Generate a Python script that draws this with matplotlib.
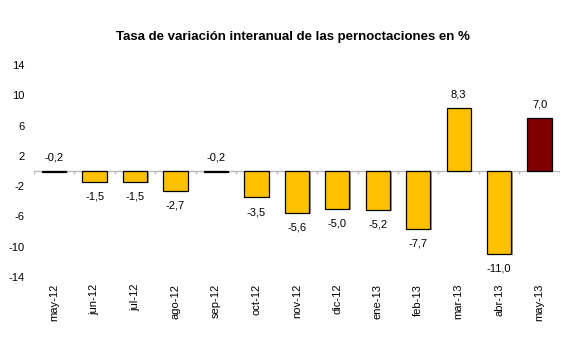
import matplotlib
matplotlib.use("Agg")
import matplotlib.pyplot as plt
import numpy as np

plt.rcParams['font.family'] = ['Liberation Sans', 'DejaVu Sans']

categories = ["may-12", "jun-12", "jul-12", "ago-12", "sep-12", "oct-12", "nov-12",
              "dic-12", "ene-13", "feb-13", "mar-13", "abr-13", "may-13"]
values = [-0.2, -1.5, -1.5, -2.7, -0.2, -3.5, -5.6, -5.0, -5.2, -7.7, 8.3, -11.0, 7.0]
yticks = [14, 10, 6, 2, -2, -6, -10, -14]
title = "Tasa de variación interanual de las pernoctaciones en %"

fig = plt.figure(figsize=(5.85, 3.55), dpi=100)
ax = fig.add_axes([0.058, 0.22, 0.899, 0.597])

x = np.arange(len(categories))
colors = ["#FFC000"] * (len(values) - 1) + ["#800000"]
# shadow
ax.bar(x + 0.04, values, width=0.6, color="#999999", zorder=1, bottom=-0.12)
ax.bar(x, values, width=0.6, color=colors, edgecolor="black", linewidth=0.9, zorder=2)

ax.axhline(0, color="#BBBBBB", linewidth=1, zorder=1.5)
bounds = np.arange(len(categories) + 1) - 0.5
ax.vlines(bounds, -0.35, 0, color="#BBBBBB", linewidth=1, zorder=1.5)

for xi, v in zip(x, values):
    lbl = f"{v:.1f}".replace(".", ",")
    if v > -1:
        ax.annotate(lbl, (xi, max(v, 0)), xytext=(0, 10), textcoords="offset points",
                    ha="center", va="center", fontsize=8)
    else:
        ax.annotate(lbl, (xi, v), xytext=(0, -10.5), textcoords="offset points",
                    ha="center", va="center", fontsize=8)

ax.set_xlim(-0.5, len(categories) - 0.5)
ax.set_ylim(-14, 14)
ax.set_yticks(yticks)
ax.set_yticklabels([str(t) for t in yticks], fontsize=8)
ax.set_xticks(x)
ax.set_xticklabels(categories, rotation=90, fontsize=8, va="top")
ax.tick_params(axis="both", length=0)
ax.tick_params(axis="x", pad=5)
ax.tick_params(axis="y", pad=7)
for s in ax.spines.values():
    s.set_visible(False)

fig.text(0.5, 0.895, title, ha="center", va="center", fontsize=9.5, fontweight="bold")

fig.savefig("out.png", dpi=100)
